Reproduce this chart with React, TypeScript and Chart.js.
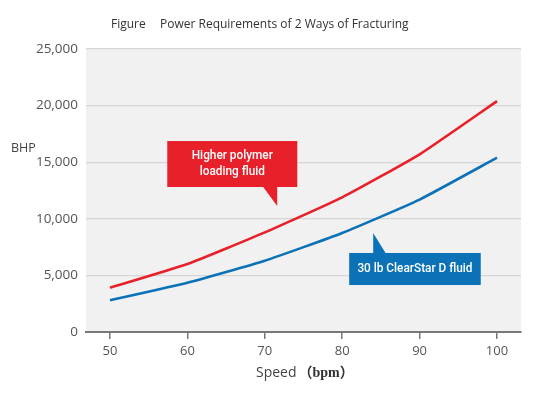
import { useEffect, useRef } from 'react';
import { Chart, registerables } from 'chart.js';

Chart.register(...registerables);

const speedTicks = [50, 60, 70, 80, 90, 100];
const polymerFluid = [3900, 6000, 8800, 11900, 15700, 20400];
const clearStarFluid = [2800, 4350, 6300, 8750, 11700, 15400];
const bhpTicks = [0, 5000, 10000, 15000, 20000, 25000];

const titleLead = 'Figure';
const titleText = 'Power Requirements of 2 Ways of Fracturing';
const yTitle = 'BHP';
const xTitleA = 'Speed';
const xTitleB = '（bpm）';
const polymerLabel = ['Higher polymer', 'loading fluid'];
const clearStarLabel = ['30 lb ClearStar D fluid'];

const RED = '#e8202a';
const BLUE = '#0b72b8';

// callouts in data units
const callouts = [
  {
    lines: polymerLabel,
    color: RED,
    x0: 57.4, x1: 74.2, yTop: 16870, yBot: 12810,
    ptr: [[69.8, 12810], [71.6, 12810], [71.6, 11130]],
  },
  {
    lines: clearStarLabel,
    color: BLUE,
    x0: 80.9, x1: 97.9, yTop: 6980, yBot: 4150,
    ptr: [[84.0, 6980], [85.6, 6980], [84.0, 8746]],
  },
];

const sans = '"Open Sans", "Noto Sans", sans-serif';
const calloutFont = '500 13px Roboto, "Noto Sans", sans-serif';
const calloutSquash = 0.91;

const decorPlugin = {
  id: 'decor',
  beforeDraw(chart: any) {
    const { ctx, chartArea } = chart;
    ctx.save();
    ctx.fillStyle = '#f1f1f1';
    ctx.fillRect(chartArea.left, chartArea.top, chartArea.right - chartArea.left, chartArea.bottom - chartArea.top);
    ctx.restore();
  },
  afterDraw(chart: any) {
    const { ctx } = chart;
    const xs = chart.scales.x;
    const ys = chart.scales.y;
    ctx.save();
    ctx.fillStyle = '#333';
    ctx.font = `12px ${sans}`;
    ctx.textBaseline = 'middle';
    ctx.textAlign = 'left';
    ctx.fillText(titleLead, 111, 25);
    ctx.fillText(titleText, 160, 25);
    ctx.fillStyle = '#444';
    ctx.font = `12.5px ${sans}`;
    ctx.fillText(yTitle, 11, 148);
    ctx.font = `14px ${sans}`;
    ctx.fillStyle = '#444';
    ctx.fillText(xTitleA, 256, 373);
    const wA = ctx.measureText(xTitleA).width;
    ctx.font = `bold 14px "Liberation Serif", "Noto Sans CJK SC", serif`;
    ctx.fillStyle = '#333';
    ctx.fillText(xTitleB, 256 + wA + 2, 373);

    for (const c of callouts) {
      const l = xs.getPixelForValue(c.x0);
      const r = xs.getPixelForValue(c.x1);
      const t = ys.getPixelForValue(c.yTop);
      const b = ys.getPixelForValue(c.yBot);
      ctx.fillStyle = c.color;
      ctx.fillRect(l, t, r - l, b - t);
      ctx.beginPath();
      c.ptr.forEach((p, i) => {
        const px = xs.getPixelForValue(p[0]);
        const py = ys.getPixelForValue(p[1]);
        if (i === 0) ctx.moveTo(px, py);
        else ctx.lineTo(px, py);
      });
      ctx.closePath();
      ctx.fill();
      ctx.fillStyle = '#ffffff';
      ctx.font = calloutFont;
      ctx.textAlign = 'center';
      ctx.textBaseline = 'middle';
      const cx = (l + r) / 2;
      const cy = (t + b) / 2;
      const lh = 16;
      c.lines.forEach((line, i) => {
        ctx.save();
        ctx.translate(cx, cy + (i - (c.lines.length - 1) / 2) * lh);
        ctx.scale(calloutSquash, 1);
        ctx.fillText(line, 0, 0);
        ctx.restore();
      });
    }
    ctx.restore();
  },
};

export default function App() {
  const ref = useRef<HTMLCanvasElement | null>(null);
  useEffect(() => {
    if (!ref.current) return;
    const chart = new Chart(ref.current, {
      type: 'line',
      data: {
        datasets: [
          {
            label: polymerLabel.join(' '),
            data: speedTicks.map((x, i) => ({ x, y: polymerFluid[i] })),
            borderColor: RED,
            borderWidth: 2.6,
            pointRadius: 0,
            tension: 0.15,
          },
          {
            label: clearStarLabel[0],
            data: speedTicks.map((x, i) => ({ x, y: clearStarFluid[i] })),
            borderColor: BLUE,
            borderWidth: 2.6,
            pointRadius: 0,
            tension: 0.15,
          },
        ],
      },
      options: {
        animation: false,
        responsive: false,
        maintainAspectRatio: false,
        layout: { padding: { top: 49, right: 37, left: 0, bottom: 0 } },
        plugins: {
          legend: { display: false },
          tooltip: { enabled: false },
          title: { display: false },
        },
        scales: {
          x: {
            type: 'linear',
            min: 46.9,
            max: 103.1,
            afterBuildTicks: (s: any) => {
              s.ticks = speedTicks.map((v) => ({ value: v }));
            },
            afterFit: (s: any) => {
              s.height = 67;
            },
            grid: {
              drawOnChartArea: false,
              drawTicks: true,
              tickLength: 7,
              color: '#777',
              lineWidth: 1.5,
            },
            border: { display: true, color: '#777', width: 2 },
            ticks: {
              padding: 4,
              color: '#555',
              font: { family: sans, size: 13 },
              callback: (v: any) => String(v),
            },
          },
          y: {
            min: 0,
            max: 25000,
            afterBuildTicks: (s: any) => {
              s.ticks = bhpTicks.map((v) => ({ value: v }));
            },
            afterFit: (s: any) => {
              s.width = 86;
            },
            grid: { color: '#d6d6d6', lineWidth: 1.2, drawTicks: false },
            border: { display: false },
            ticks: {
              padding: 8,
              color: '#555',
              font: { family: sans, size: 13.5 },
              callback: (v: any) => Number(v).toLocaleString('en-US'),
            },
          },
        },
      },
      plugins: [decorPlugin],
    } as any);
    return () => chart.destroy();
  }, []);
  return (
    <div style={{ position: 'fixed', left: 0, top: 0, width: 558, height: 399, background: '#fff' }}>
      <canvas ref={ref} width={558} height={399} style={{ width: 558, height: 399, display: 'block' }} />
    </div>
  );
}
